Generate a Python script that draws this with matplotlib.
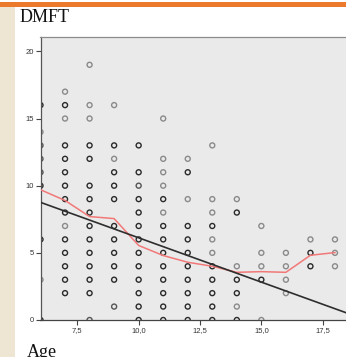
import matplotlib
matplotlib.use("Agg")
import matplotlib.pyplot as plt
from matplotlib.patches import Rectangle

# ---- data ----
age = ([6]*9 + [7]*15 + [8]*15 + [9]*12 + [10]*13 + [11]*14 + [12]*11 +
       [13]*11 + [14]*7 + [15]*5 + [16]*4 + [17]*3 + [18]*3)
dmft = [16, 14, 13, 12, 11, 10, 6, 3, 0,
        17, 16, 15, 13, 12, 11, 10, 9, 8, 7, 6, 5, 4, 3, 2,
        19, 16, 15, 13, 12, 10, 9, 8, 7, 6, 5, 4, 3, 2, 0,
        16, 13, 12, 11, 10, 9, 7, 6, 5, 4, 3, 1,
        13, 11, 10, 9, 8, 7, 6, 5, 4, 3, 2, 1, 0,
        15, 12, 11, 10, 9, 8, 7, 6, 5, 4, 3, 2, 1, 0,
        12, 11, 9, 7, 6, 5, 4, 3, 2, 1, 0,
        13, 9, 8, 7, 6, 5, 4, 3, 2, 1, 0,
        9, 8, 4, 3, 2, 1, 0,
        7, 5, 4, 3, 0,
        5, 4, 3, 2,
        6, 5, 4,
        6, 5, 4]
# relative number of overlapping cases (1 = single, 3 = many)
cases = [3, 1, 2, 2, 2, 3, 3, 1, 3,
         1, 3, 1, 3, 3, 3, 3, 3, 3, 1, 3, 3, 3, 3, 3,
         1, 1, 1, 3, 3, 3, 3, 3, 3, 3, 3, 3, 3, 3, 2,
         1, 3, 1, 3, 3, 3, 3, 3, 3, 3, 3, 2,
         3, 3, 2, 3, 3, 3, 3, 3, 3, 3, 3, 3, 3,
         1, 1, 1, 1, 3, 1, 3, 3, 3, 3, 3, 3, 3, 3,
         1, 3, 1, 3, 3, 3, 3, 3, 3, 3, 3,
         1, 1, 1, 3, 1, 1, 3, 3, 3, 3, 3,
         1, 3, 1, 3, 3, 1, 3,
         1, 1, 1, 3, 1,
         1, 1, 1, 1,
         1, 3, 3,
         1, 1, 1]

mean_age = [6, 7, 8, 9, 10, 11, 12, 13, 14, 15, 16, 17, 18]
mean_dmft = [9.7, 8.9, 7.7, 7.55, 5.55, 4.8, 4.3, 4.0, 3.55, 3.6, 3.55, 4.82, 5.02]

fit_age = [6, 19]
fit_dmft = [8.76, 0.18]

xticks = [7.5, 10.0, 12.5, 15.0, 17.5]
xtick_labels = ["7,5", "10,0", "12,5", "15,0", "17,5"]
yticks = [0, 5, 10, 15, 20]
ytick_labels = ["0", "5", "10", "15", "20"]

# ---- figure ----
W, H = 346, 357
fig = plt.figure(figsize=(W/100, H/100), dpi=100)
fig.patch.set_facecolor("white")

# page decorations
fig.patches.append(Rectangle((0, 1 - 7/H), 1, 5/H, transform=fig.transFigure,
                             facecolor="#EC7A2C", edgecolor="none", zorder=0))
fig.patches.append(Rectangle((0, 0), 15/W, 1 - 7/H, transform=fig.transFigure,
                             facecolor="#EEE6D2", edgecolor="none", zorder=0))

left = 40.5/W
bottom = (H - 320)/H
top = (H - 37)/H
right = (40.5 + 13*24.54)/W
ax = fig.add_axes([left, bottom, right - left, top - bottom])
ax.set_facecolor("#EAEAEA")

shade = {1: "#8a8a8a", 2: "#555555", 3: "#2a2a2a"}
colors = [shade[c] for c in cases]
ax.scatter(age, dmft, s=13, facecolors="none", edgecolors=colors,
           linewidths=1.0, zorder=2)

ax.plot(mean_age, mean_dmft, color="#F27878", lw=1.1, zorder=3)
ax.plot(fit_age, fit_dmft, color="#2e2e2e", lw=1.2, zorder=3)

ax.set_xlim(6, 19)
ax.set_ylim(0, 21.07)
ax.set_xticks(xticks)
ax.set_xticklabels(xtick_labels)
ax.set_yticks(yticks)
ax.set_yticklabels(ytick_labels)
ax.tick_params(axis="both", length=3.5, width=0.8, color="#444444",
               labelsize=5.5, labelcolor="#333333", pad=1.5)
for lab in ax.get_xticklabels() + ax.get_yticklabels():
    lab.set_family("Liberation Sans")

ax.spines["left"].set_color("#555555")
ax.spines["bottom"].set_color("#444444")
ax.spines["top"].set_color("#8c8c8c")
ax.spines["right"].set_visible(False)
for s in ax.spines.values():
    s.set_linewidth(0.9)

fig.text(20/W, 1 - 18/H, "DMFT", family="Liberation Serif", fontsize=13,
         color="#111111", ha="left", va="center")
fig.text(27/W, 1 - 344/H, "Age", family="Liberation Serif", fontsize=13,
         color="#111111", ha="left", va="top")

fig.savefig("out.png", dpi=100)
